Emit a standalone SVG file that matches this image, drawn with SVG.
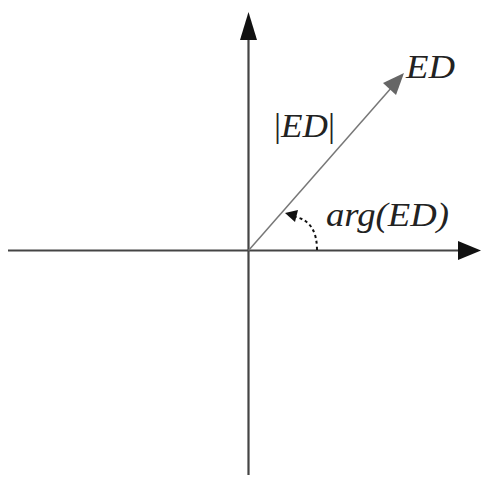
<svg xmlns="http://www.w3.org/2000/svg" width="481" height="477" viewBox="0 0 481 477">
<style>
.ax{stroke:#444;stroke-width:2.2;fill:none}
.vec{stroke:#777;stroke-width:1.5;fill:none}
.lbl{font-family:"Liberation Serif",serif;font-style:italic;font-size:33px;fill:#222}
</style>
<g id="connectors">
<line class="ax" x1="248.5" y1="475" x2="248.5" y2="38"/>
<polygon points="248.5,12 240,40 257,40" fill="#111"/>
<line class="ax" x1="8" y1="250.5" x2="462" y2="250.5"/>
<polygon points="481,250.5 458,241 458,260" fill="#111"/>
<line class="vec" x1="248.5" y1="250.5" x2="392" y2="87"/>
<polygon points="404,73 383,83 396,95" fill="#666"/>
<path d="M317,250 Q317,222 296,217" stroke="#111" stroke-width="2" fill="none" stroke-dasharray="3,3"/>
<polygon points="285,213 298,210 295,222" fill="#111"/>
</g>
<g id="label-ED"><text class="lbl" x="406" y="78" textLength="49" lengthAdjust="spacingAndGlyphs">ED</text></g>
<g id="label-absED"><text class="lbl" x="274" y="137" textLength="61" lengthAdjust="spacingAndGlyphs"><tspan font-style="normal">|</tspan>ED<tspan font-style="normal">|</tspan></text></g>
<g id="label-arg"><text class="lbl" x="326" y="226" textLength="123" lengthAdjust="spacingAndGlyphs">arg(ED)</text></g>
</svg>
